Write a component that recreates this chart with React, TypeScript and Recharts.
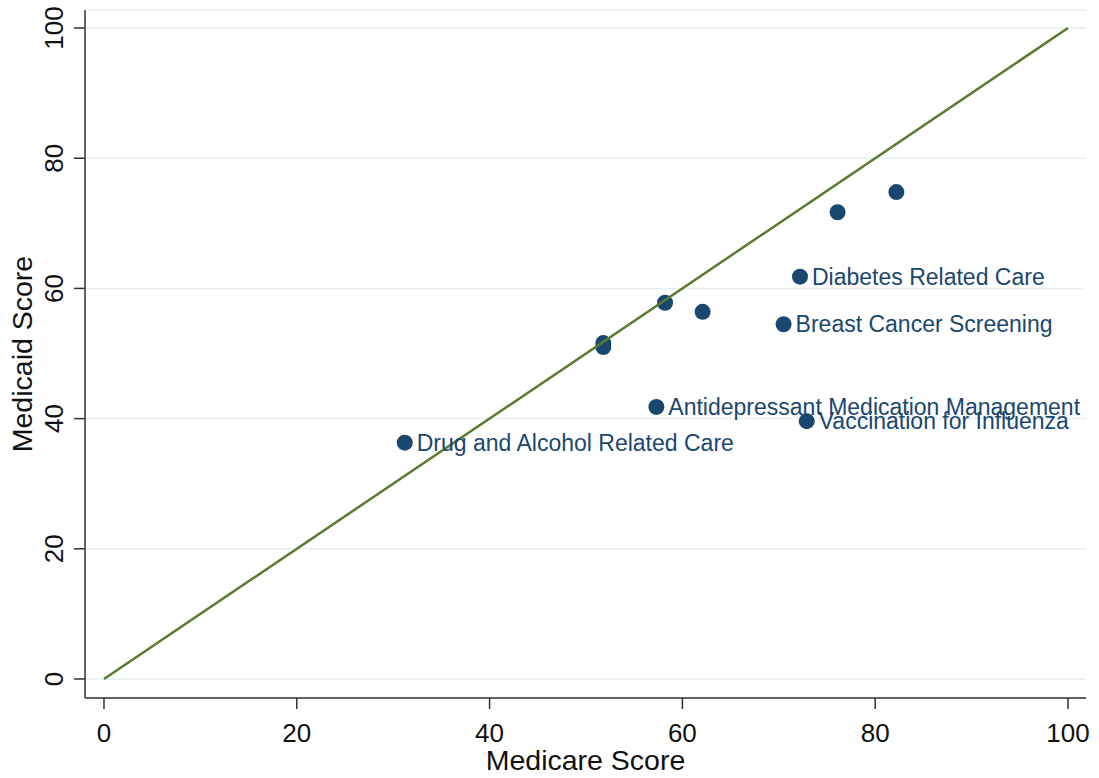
import React from "react";
import {
  ScatterChart,
  Scatter,
  XAxis,
  YAxis,
  CartesianGrid,
  LabelList,
} from "recharts";

// values
const medicare = [31.2, 51.8, 51.8, 58.2, 62.1, 57.3, 70.5, 72.2, 72.9, 76.1, 82.2];
const medicaid = [36.3, 51.6, 51.0, 57.8, 56.4, 41.8, 54.5, 61.8, 39.6, 71.7, 74.8];
const measureNames = [
  "Drug and Alcohol Related Care",
  "",
  "",
  "",
  "",
  "Antidepressant Medication Management",
  "Breast Cancer Screening",
  "Diabetes Related Care",
  "Vaccination for Influenza",
  "",
  "",
];
const axisTicks = [0, 20, 40, 60, 80, 100];
const diagonalX = [0, 100];
const diagonalY = [0, 100];

const points = medicare.map((x, i) => ({ x, y: medicaid[i], name: measureNames[i] }));
const diagonal = diagonalX.map((x, i) => ({ x, y: diagonalY[i] }));

const FONT = "'Liberation Sans', Arial, sans-serif";
const NAVY = "#1a476f";
const GREEN = "#5a7b2f";
const AXIS = "#333333";

const Dot = (props: any) => <circle cx={props.cx} cy={props.cy} r={8} fill={NAVY} />;
const NoDot = () => null;

const PointLabel = (props: any) => {
  const { x, y, width, height, value } = props;
  if (!value) return null;
  return (
    <text
      x={x + width / 2 + 12}
      y={y + height / 2 + 8}
      fill={NAVY}
      fontSize={23}
      fontFamily={FONT}
    >
      {value}
    </text>
  );
};

const XTick = (props: any) => (
  <text x={props.x} y={props.y + 33} textAnchor="middle" fontSize={26} fontFamily={FONT} fill="#111">
    {props.payload.value}
  </text>
);

const YTick = (props: any) => {
  const bx = props.x - 11;
  return (
    <text
      x={bx}
      y={props.y}
      textAnchor="middle"
      transform={`rotate(-90, ${bx}, ${props.y})`}
      fontSize={26}
      fontFamily={FONT}
      fill="#111"
    >
      {props.payload.value}
    </text>
  );
};

const XTitle = (props: any) => {
  const vb = props.viewBox;
  return (
    <text x={vb.x + vb.width / 2} y={vb.y + 72} textAnchor="middle" fontSize={28.5} fontFamily={FONT} fill="#111">
      Medicare Score
    </text>
  );
};

const YTitle = (props: any) => {
  const vb = props.viewBox;
  const cx = vb.x + 32;
  const cy = vb.y + vb.height / 2;
  return (
    <text
      x={cx}
      y={cy}
      textAnchor="middle"
      transform={`rotate(-90, ${cx}, ${cy})`}
      fontSize={28.5}
      fontFamily={FONT}
      fill="#111"
    >
      Medicaid Score
    </text>
  );
};

export default function App() {
  return (
    <div style={{ position: "absolute", left: 0, top: 0, background: "#fff" }}>
      <ScatterChart width={1099} height={778} margin={{ top: 10, right: 13, left: 0, bottom: 0 }}>
        <CartesianGrid vertical={false} stroke="#e6eff1" strokeWidth={1.5} />
        <XAxis
          type="number"
          dataKey="x"
          domain={[-1.97, 101.87]}
          ticks={axisTicks}
          height={80}
          tickSize={11}
          tickMargin={0}
          axisLine={{ stroke: AXIS, strokeWidth: 1.5 }}
          tickLine={{ stroke: AXIS, strokeWidth: 1.5 }}
          tick={<XTick />}
          label={{ content: XTitle }}
          allowDataOverflow
        />
        <YAxis
          type="number"
          dataKey="y"
          domain={[-2.92, 102.77]}
          ticks={axisTicks}
          width={85}
          tickSize={11}
          tickMargin={0}
          axisLine={{ stroke: AXIS, strokeWidth: 1.5 }}
          tickLine={{ stroke: AXIS, strokeWidth: 1.5 }}
          tick={<YTick />}
          label={{ content: YTitle }}
          allowDataOverflow
        />
        <Scatter data={points} shape={<Dot />} isAnimationActive={false}>
          <LabelList dataKey="name" content={<PointLabel />} />
        </Scatter>
        <Scatter
          data={diagonal}
          line={{ stroke: GREEN, strokeWidth: 2.5 }}
          shape={<NoDot />}
          isAnimationActive={false}
        />
      </ScatterChart>
    </div>
  );
}
